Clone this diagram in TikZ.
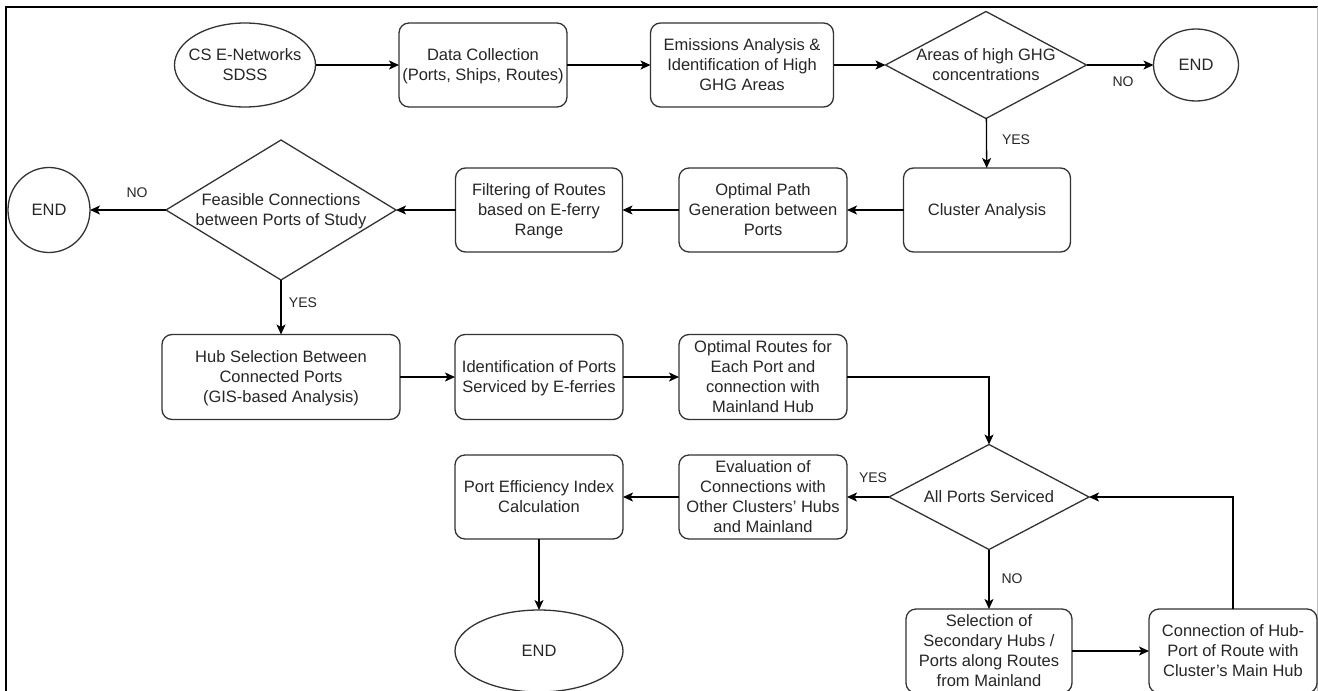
\documentclass[tikz,border=0pt]{standalone}
\usepackage{fontspec}
\setmainfont{Liberation Sans}
\usetikzlibrary{shapes.geometric,arrows.meta}
% centred multi-line text that takes no room, so the shape size is set only by minimum width/height
\newcommand{\ctext}[1]{\makebox[0pt][c]{\smash{\raisebox{-6pt}{\begin{tabular}[c]{@{}c@{}}#1\end{tabular}}}}}
\tikzset{
  base/.style={draw=black!80, line width=1.3pt, inner sep=0pt, outer sep=0pt,
               font=\fontsize{16.5}{20}\selectfont, text=black!85},
  proc/.style={base, rectangle, rounded corners=10pt},
  term/.style={base, ellipse},
  dec/.style={base, diamond},
  flow/.style={-{Stealth[length=10pt,width=9pt,inset=2.5pt]}, line width=1.3pt, black},
  lbl/.style={font=\fontsize{14}{16}\selectfont, text=black!85, inner sep=0pt},
}
\begin{document}
\begin{tikzpicture}[x=1pt, y=-1pt]
\useasboundingbox (0,0) rectangle (1318,691);
\fill[white] (0,0) rectangle (1318,691);
% frame
\draw[line width=2.6pt, black] (6,691) -- (6,7) -- (1318,7);
\draw[line width=0.8pt, black!25] (1317,7) -- (1317,691);

% row 1
\node[term, minimum width=141, minimum height=84] (start) at (245,65) {\ctext{CS E-Networks\\SDSS}};
\node[proc, minimum width=168, minimum height=84] (data) at (483,65) {\ctext{Data Collection\\(Ports, Ships, Routes)}};
\node[proc, minimum width=183, minimum height=84] (emis) at (742,65) {\ctext{Emissions Analysis \&\\Identification of High\\GHG Areas}};
\node[dec, minimum width=201, minimum height=107] (ghg) at (986,65) {\ctext{Areas of high GHG\\concentrations}};
\node[term, minimum width=85, minimum height=72] (endA) at (1196,65) {\ctext{END}};

% row 2
\node[proc, minimum width=167, minimum height=84] (clus) at (987,210) {\ctext{Cluster Analysis}};
\node[proc, minimum width=168, minimum height=84] (optp) at (763,210) {\ctext{Optimal Path\\Generation between\\Ports}};
\node[proc, minimum width=167, minimum height=84] (filt) at (539,210) {\ctext{Filtering of Routes\\based on E-ferry\\Range}};
\node[dec, minimum width=230, minimum height=140] (feas) at (281,210) {\ctext{Feasible Connections\\between Ports of Study}};
\node[term, minimum width=82, minimum height=85] (endB) at (49,210) {\ctext{END}};

% row 3
\node[proc, minimum width=238, minimum height=85] (hub) at (281,377) {\ctext{Hub Selection Between\\Connected Ports\\(GIS-based Analysis)}};
\node[proc, minimum width=168, minimum height=85] (ident) at (539,377) {\ctext{Identification of Ports\\Serviced by E-ferries}};
\node[proc, minimum width=168, minimum height=85] (optr) at (763,377) {\ctext{Optimal Routes for\\Each Port and\\connection with\\Mainland Hub}};

% row 4
\node[dec, minimum width=200, minimum height=105] (allp) at (989,497) {\ctext{All Ports Serviced}};
\node[proc, minimum width=168, minimum height=84] (eval) at (763,497) {\ctext{Evaluation of\\Connections with\\Other Clusters' Hubs\\and Mainland}};
\node[proc, minimum width=168, minimum height=84] (peff) at (539,497) {\ctext{Port Efficiency Index\\Calculation}};

% row 5
\node[term, minimum width=168, minimum height=82] (endC) at (539,651) {\ctext{END}};
\node[proc, minimum width=166, minimum height=84] (sel) at (989,651) {\ctext{Selection of\\Secondary Hubs /\\Ports along Routes\\from Mainland}};
\node[proc, minimum width=168, minimum height=84] (conn) at (1233,651) {\ctext{Connection of Hub-\\Port of Route with\\Cluster's Main Hub}};

% connectors
\draw[flow] (start) -- (data);
\draw[flow] (data) -- (emis);
\draw[flow] (emis) -- (ghg);
\draw[flow] (ghg) -- (endA);
\draw[flow] (ghg) -- (clus);
\draw[flow] (clus) -- (optp);
\draw[flow] (optp) -- (filt);
\draw[flow] (filt) -- (feas);
\draw[flow] (feas) -- (endB);
\draw[flow] (feas) -- (hub);
\draw[flow] (hub) -- (ident);
\draw[flow] (ident) -- (optr);
\draw[flow] (optr.east) -| (allp.north);
\draw[flow] (allp) -- (eval);
\draw[flow] (eval) -- (peff);
\draw[flow] (peff) -- (endC);
\draw[flow] (allp) -- (sel);
\draw[flow] (sel) -- (conn);
\draw[flow] (conn.north) |- (allp.east);

% branch labels
\node[lbl] (noA) at (1123,82) {NO};
\node[lbl] (yesA) at (1016,140) {YES};
\node[lbl] (noB) at (137,193) {NO};
\node[lbl] (yesB) at (303,303) {YES};
\node[lbl] (yesC) at (873,478) {YES};
\node[lbl] (noC) at (1012,579) {NO};
\end{tikzpicture}
\end{document}
